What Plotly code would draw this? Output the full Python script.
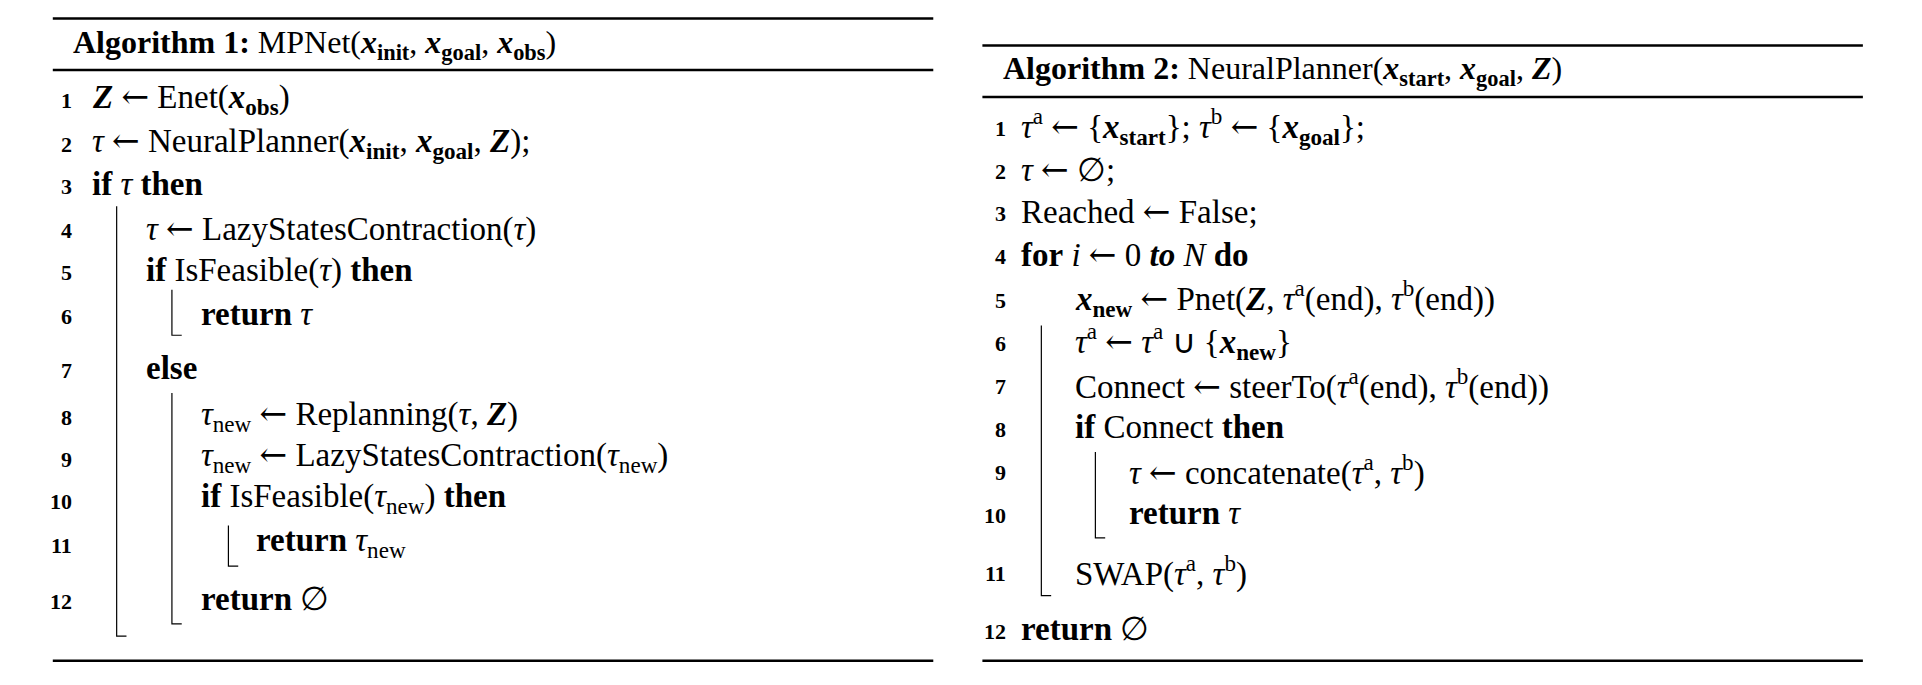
import plotly.graph_objects as go

S = 1.228
OFF = -8
FONT = "Liberation Serif"

def X(v): return v * S + OFF
def Y(v): return v * S + OFF

AR = "<span style='font-family:DejaVu Serif'>←</span>"
bx = lambda t: "<b><i>%s</i></b>" % t
xs = lambda s: "<b><i>x</i></b><sub><b>%s</b></sub>" % s
tau = "<i>τ</i>"
tn = "<i>τ</i><sub>new</sub>"
ta = "<i>τ</i><sup>a</sup>"
tb = "<i>τ</i><sup>b</sup>"

alg1_title = "<b>Algorithm 1:</b> MPNet(%s, %s, %s)" % (xs("init"), xs("goal"), xs("obs"))
alg1_lines = [
    (0, "%s %s Enet(%s)" % (bx("Z"), AR, xs("obs"))),
    (0, "%s %s NeuralPlanner(%s, %s, %s);" % (tau, AR, xs("init"), xs("goal"), bx("Z"))),
    (0, "<b>if</b> %s <b>then</b>" % tau),
    (1, "%s %s LazyStatesContraction(%s)" % (tau, AR, tau)),
    (1, "<b>if</b> IsFeasible(%s) <b>then</b>" % tau),
    (2, "<b>return</b> %s" % tau),
    (1, "<b>else</b>"),
    (2, "%s %s Replanning(%s, %s)" % (tn, AR, tau, bx("Z"))),
    (2, "%s %s LazyStatesContraction(%s)" % (tn, AR, tn)),
    (2, "<b>if</b> IsFeasible(%s) <b>then</b>" % tn),
    (3, "<b>return</b> %s" % tn),
    (2, "<b>return</b> ∅"),
]
alg1_y = [80, 116, 150, 186, 220, 256, 300, 338, 372, 406, 442, 488]

alg2_title = "<b>Algorithm 2:</b> NeuralPlanner(%s, %s, %s)" % (xs("start"), xs("goal"), bx("Z"))
alg2_lines = [
    (0, "%s %s {%s}; %s %s {%s};" % (ta, AR, xs("start"), tb, AR, xs("goal"))),
    (0, "%s %s ∅;" % (tau, AR)),
    (0, "Reached %s False;" % AR),
    (0, "<b>for</b> <i>i</i> %s 0 <b><i>to</i></b> <i>N</i> <b>do</b>" % AR),
    (1, "%s %s Pnet(%s, %s(end), %s(end))" % (xs("new"), AR, bx("Z"), ta, tb)),
    (1, "%s %s %s ∪ {%s}" % (ta, AR, ta, xs("new"))),
    (1, "Connect %s steerTo(%s(end), %s(end))" % (AR, ta, tb)),
    (1, "<b>if</b> Connect <b>then</b>"),
    (2, "%s %s concatenate(%s, %s)" % (tau, AR, ta, tb)),
    (2, "<b>return</b> %s" % tau),
    (1, "SWAP(%s, %s)" % (ta, tb)),
    (0, "<b>return</b> ∅"),
]
alg2_y = [103, 138, 172, 207, 243, 278, 313, 348, 383, 418, 465, 512]

fig = go.Figure()
shapes = []
ann = []

def table(x0, x1, top, head_y, rule2, bottom, numx, codex, step, title, lines, ys, bars):
    for yy in (top, rule2, bottom):
        shapes.append(dict(type="line", x0=X(x0), x1=X(x1), y0=Y(yy), y1=Y(yy),
                           line=dict(color="black", width=2.5)))
    ann.append(dict(x=X(x0 + 15), y=Y(head_y), text=title, showarrow=False,
                    xanchor="left", yanchor="middle", font=dict(family=FONT, size=32, color="black")))
    for i, ((ind, txt), yy) in enumerate(zip(lines, ys)):
        ann.append(dict(x=X(numx), y=Y(yy + 2), text="<b>%d</b>" % (i + 1), showarrow=False,
                        xanchor="right", yanchor="middle", font=dict(family=FONT, size=22, color="black")))
        ann.append(dict(x=X(codex + ind * step), y=Y(yy), text=txt, showarrow=False,
                        xanchor="left", yanchor="middle", font=dict(family=FONT, size=33, color="black")))
    for bxp, y0, y1 in bars:
        shapes.append(dict(type="path", path="M %f %f L %f %f L %f %f" % (
            X(bxp), Y(y0), X(bxp), Y(y1), X(bxp + 8), Y(y1)), line=dict(color="black", width=1.2)))

table(43, 760, 15, 36, 57, 538, 60, 73, 44.5, alg1_title, alg1_lines, alg1_y,
      [(95, 168, 518), (140, 236, 273), (140, 320, 508), (186, 428, 461)])
table(800, 1517, 37, 57, 79, 538, 821, 830, 44, alg2_title, alg2_lines, alg2_y,
      [(848, 265, 485), (892, 368, 438)])

fig.update_layout(width=1922, height=685, margin=dict(l=0, r=0, t=0, b=0),
                  plot_bgcolor="white", paper_bgcolor="white", shapes=shapes, annotations=ann,
                  xaxis=dict(range=[0, 1922], visible=False, fixedrange=True),
                  yaxis=dict(range=[685, 0], visible=False, fixedrange=True), showlegend=False)
fig.write_html("out.html")
